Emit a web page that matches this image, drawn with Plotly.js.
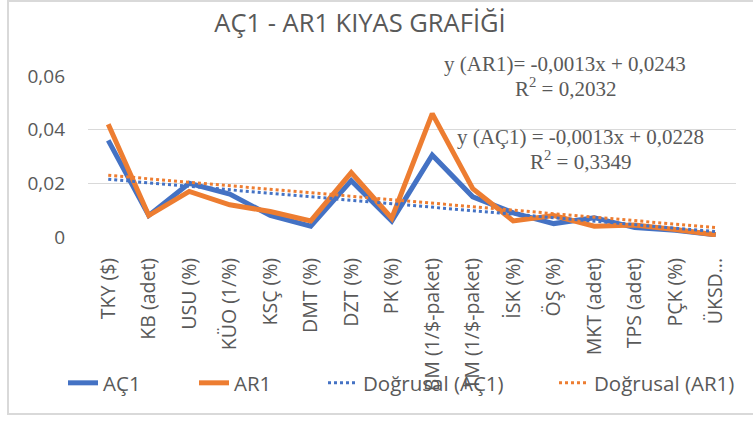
<!DOCTYPE html>
<html>
<head>
<meta charset="utf-8">
<script src="https://cdn.plot.ly/plotly-3.0.1.min.js"></script>
<style>html,body{margin:0;padding:0;background:#fff;}#chart{width:753px;height:423px;}</style>
</head>
<body>
<div id="chart"></div>
<script>
const categories = ["TKY ($)", "KB (adet)", "USU (%)", "KÜO (1/%)", "KSÇ (%)", "DMT (%)", "DZT (%)", "PK (%)", "BM (1/$-paket)", "TM (1/$-paket)", "İSK (%)", "ÖŞ (%)", "MKT (adet)", "TPS (adet)", "PÇK (%)", "ÜKSD..."];
const ac1 = [0.036, 0.008, 0.020, 0.016, 0.008, 0.004, 0.021, 0.006, 0.0305, 0.015, 0.009, 0.005, 0.0072, 0.0035, 0.0025, 0.0008];
const ar1 = [0.042, 0.008, 0.017, 0.012, 0.0095, 0.006, 0.024, 0.007, 0.046, 0.018, 0.006, 0.008, 0.004, 0.0045, 0.0028, 0.0008];
const trendAC1 = {slope: -0.0013, intercept: 0.0228, r2: "0,3349", label: "y (AÇ1) = -0,0013x + 0,0228"};
const trendAR1 = {slope: -0.0013, intercept: 0.0243, r2: "0,2032", label: "y (AR1)= -0,0013x + 0,0243"};
const yTickVals = [0, 0.02, 0.04, 0.06];
const yTickText = ["0", "0,02", "0,04", "0,06"];

const idx = categories.map((c, i) => i + 1);
const ends = [1, categories.length];
const trendY = t => ends.map(x => t.slope * x + t.intercept);

const BLUE = "#4472C4", ORANGE = "#ED7D31", GRAY = "#595959";
const FONT = "Open Sans, sans-serif";
const SERIF = "Liberation Serif, serif";

// pixel helpers for paper coordinates (plot area 88..736 x, 76..237 y)
const px = p => (p - 88) / 648;
const py = p => (237 - p) / 161;

const traces = [
  {x: idx, y: ac1, name: "AÇ1", type: "scatter", mode: "lines", line: {color: BLUE, width: 5}, legend: "legend"},
  {x: idx, y: ar1, name: "AR1", type: "scatter", mode: "lines", line: {color: ORANGE, width: 5}, legend: "legend2"},
  {x: ends, y: trendY(trendAC1), name: "Doğrusal (AÇ1)", type: "scatter", mode: "lines", line: {color: BLUE, width: 3, dash: "dot"}, legend: "legend3"},
  {x: ends, y: trendY(trendAR1), name: "Doğrusal (AR1)", type: "scatter", mode: "lines", line: {color: ORANGE, width: 3, dash: "dot"}, legend: "legend4"}
];

const legendBase = textX => ({orientation: "h", x: px(textX - 39), xanchor: "left", y: py(383), yanchor: "middle",
  font: {family: FONT, size: 20.5, color: GRAY}, bgcolor: "rgba(0,0,0,0)"});

const layout = {
  width: 753, height: 423,
  margin: {l: 88, r: 17, t: 76, b: 186},
  paper_bgcolor: "#fff", plot_bgcolor: "#fff",
  font: {family: FONT, color: GRAY},
  title: {text: "AÇ1 - AR1 KIYAS GRAFİĞİ", x: 360/753, xanchor: "center", y: 1 - 23/423, yanchor: "middle",
          font: {family: FONT, size: 25.5, color: GRAY}},
  xaxis: {
    range: [0.5, categories.length + 0.5],
    tickvals: idx, ticktext: categories, tickangle: -90,
    showgrid: false, zeroline: false, showline: false, ticks: "",
    tickfont: {family: FONT, size: 19.5, color: GRAY},
    ticklabelstandoff: 16
  },
  yaxis: {
    range: [0, 0.06], tickvals: yTickVals, ticktext: yTickText,
    showgrid: true, gridcolor: "#D9D9D9", gridwidth: 1, zeroline: false, showline: false, ticks: "",
    tickfont: {family: FONT, size: 19, color: GRAY},
    ticklabelstandoff: 22
  },
  showlegend: true,
  legend: legendBase(102),
  legend2: legendBase(233),
  legend3: legendBase(362),
  legend4: legendBase(593),
  annotations: [
    {xref: "paper", yref: "paper", x: px(565), y: py(64), xanchor: "center", yanchor: "middle",
     showarrow: false, text: trendAR1.label, font: {family: SERIF, size: 21, color: GRAY}},
    {xref: "paper", yref: "paper", x: px(565), y: py(87), xanchor: "center", yanchor: "middle",
     showarrow: false, text: "R<sup>2</sup> = " + trendAR1.r2, font: {family: SERIF, size: 21, color: GRAY}},
    {xref: "paper", yref: "paper", x: px(580), y: py(137), xanchor: "center", yanchor: "middle",
     showarrow: false, text: trendAC1.label, font: {family: SERIF, size: 21, color: GRAY}},
    {xref: "paper", yref: "paper", x: px(580), y: py(160), xanchor: "center", yanchor: "middle",
     showarrow: false, text: "R<sup>2</sup> = " + trendAC1.r2, font: {family: SERIF, size: 21, color: GRAY}}
  ],
  shapes: [
    {type: "rect", xref: "paper", yref: "paper", x0: px(8), x1: 2, y0: py(414), y1: py(1),
     line: {color: "#D9D9D9", width: 2}, fillcolor: "rgba(0,0,0,0)", layer: "below"}
  ]
};

Plotly.newPlot("chart", traces, layout, {displayModeBar: false, staticPlot: true});
</script>
</body>
</html>
